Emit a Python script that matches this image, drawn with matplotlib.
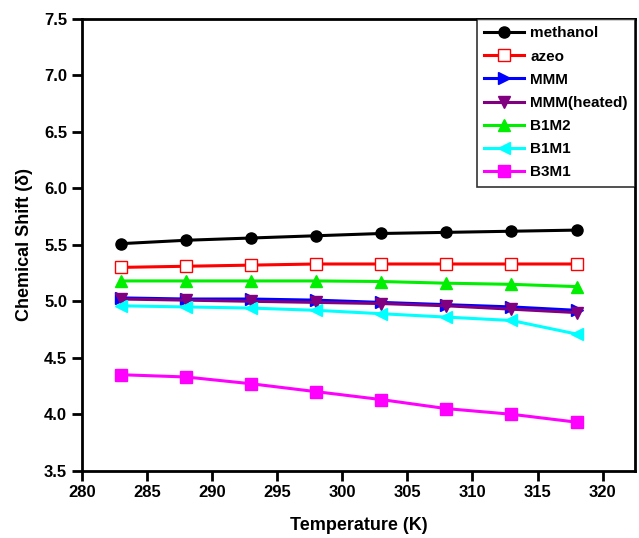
import matplotlib
matplotlib.use("Agg")
import matplotlib.pyplot as plt

plt.rcParams['font.family'] = ['Liberation Sans', 'DejaVu Sans']
plt.rcParams['font.weight'] = 'bold'

temp = [283, 288, 293, 298, 303, 308, 313, 318]

methanol = [5.51, 5.54, 5.56, 5.58, 5.60, 5.61, 5.62, 5.63]
azeo = [5.30, 5.31, 5.32, 5.33, 5.33, 5.33, 5.33, 5.33]
mmm = [5.03, 5.02, 5.02, 5.01, 4.99, 4.97, 4.95, 4.92]
mmm_heated = [5.02, 5.01, 5.00, 4.99, 4.98, 4.96, 4.93, 4.90]
b1m2 = [5.18, 5.18, 5.18, 5.18, 5.175, 5.16, 5.15, 5.13]
b1m1 = [4.96, 4.95, 4.94, 4.92, 4.89, 4.86, 4.83, 4.71]
b3m1 = [4.35, 4.33, 4.27, 4.20, 4.13, 4.05, 4.00, 3.93]

fig = plt.figure(figsize=(6.39, 5.38), dpi=100)
ax = fig.add_axes([0.128, 0.125, 0.866, 0.840])

ax.plot(temp, methanol, color="black", marker="o", ms=8, lw=2.2, label="methanol")
ax.plot(temp, azeo, color="red", marker="s", ms=8, mfc="white", mec="red", lw=2.2, label="azeo")
ax.plot(temp, mmm, color="blue", marker=">", ms=9, lw=2.2, label="MMM")
ax.plot(temp, mmm_heated, color="purple", marker="v", ms=9, lw=2.2, label="MMM(heated)")
ax.plot(temp, b1m2, color="#00ee00", marker="^", ms=9, lw=2.2, label="B1M2")
ax.plot(temp, b1m1, color="cyan", marker="<", ms=9, lw=2.2, label="B1M1")
ax.plot(temp, b3m1, color="magenta", marker="s", ms=8, lw=2.2, label="B3M1")

ax.set_xlim(280, 322.5)
ax.set_ylim(3.5, 7.5)
ax.set_xticks(range(280, 321, 5))
ax.set_yticks([3.5, 4.0, 4.5, 5.0, 5.5, 6.0, 6.5, 7.0, 7.5])
ax.set_yticklabels(["3.5", "4.0", "4.5", "5.0", "5.5", "6.0", "6.5", "7.0", "7.5"])
ax.tick_params(direction="out", length=7, width=2, labelsize=12)
for s in ax.spines.values():
    s.set_linewidth(2)

ax.set_xlabel("Temperature (K)", fontsize=13, fontweight="bold", labelpad=12)
ax.set_ylabel("Chemical Shift (\u03b4)", fontsize=13, fontweight="bold", labelpad=8)

leg = ax.legend(loc="upper right", fontsize=11, borderaxespad=0, fancybox=False,
                edgecolor="black", handlelength=2.6, handletextpad=0.4,
                labelspacing=0.6, borderpad=0.5)
leg.get_frame().set_linewidth(1.2)

fig.savefig("out.png", dpi=100)
